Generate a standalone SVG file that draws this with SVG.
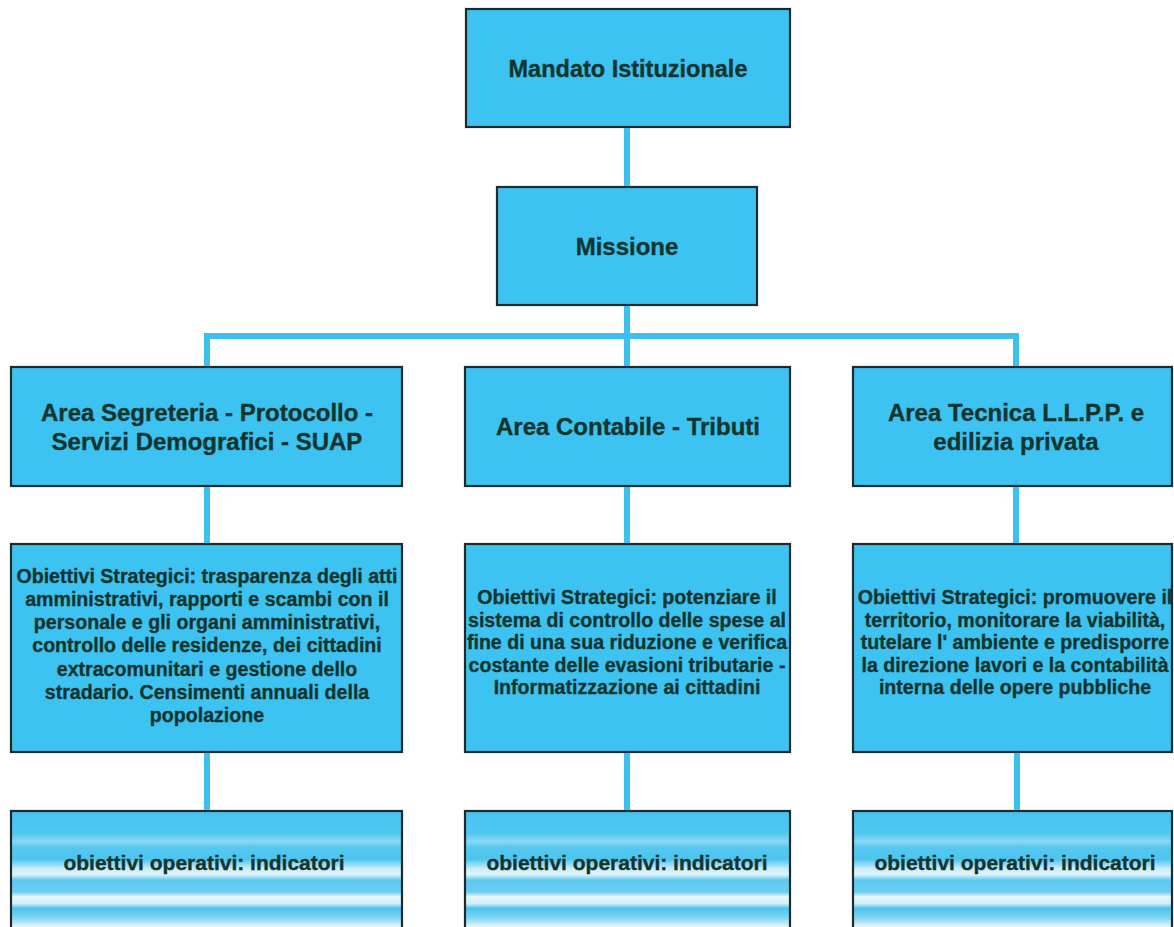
<svg xmlns="http://www.w3.org/2000/svg" width="1174" height="927" viewBox="0 0 1174 927">
<style>
.box{fill:#3dc3f1;stroke:#1f2a2a;stroke-width:2.2}
.grad{fill:url(#stripes);stroke:#1f2a2a;stroke-width:2.2}
.conn{stroke:#3cc0ef;stroke-width:6;fill:none}
text{font-family:"Liberation Sans",Arial,sans-serif;font-weight:bold;fill:#13352f;stroke:#13352f;stroke-width:0.35;text-anchor:middle}
.t1{font-size:23.5px}
.t1b{font-size:24px}
.t2{font-size:24px}
.t3{font-size:19.6px}
.t4{font-size:21px}
</style>
<defs>
<linearGradient id="stripes" gradientUnits="userSpaceOnUse" x1="0" y1="810" x2="0" y2="927">
<stop offset="0" stop-color="#45c3ef"/>
<stop offset="0.2" stop-color="#52c8f0"/>
<stop offset="0.27" stop-color="#8ad8f3"/>
<stop offset="0.32" stop-color="#55c8f0"/>
<stop offset="0.42" stop-color="#4cc5ef"/>
<stop offset="0.5" stop-color="#c8ecf8"/>
<stop offset="0.55" stop-color="#e0f4fb"/>
<stop offset="0.6" stop-color="#5ec9f0"/>
<stop offset="0.7" stop-color="#6ccdf0"/>
<stop offset="0.74" stop-color="#e5f6fb"/>
<stop offset="0.8" stop-color="#d0eff9"/>
<stop offset="0.84" stop-color="#4ec4ee"/>
<stop offset="0.92" stop-color="#7fd3f2"/>
<stop offset="1" stop-color="#e8f7fc"/>
</linearGradient>
</defs>
<rect width="1174" height="927" fill="#ffffff"/>
<g id="mandato">
<rect class="box" x="466" y="9" width="324" height="118"/>
<text class="t1" x="628" y="77">Mandato Istituzionale</text>
</g>
<g id="missione">
<rect class="box" x="497" y="187" width="260" height="118"/>
<text class="t1b" x="627" y="255">Missione</text>
</g>
<g id="area1">
<rect class="box" x="11" y="367" width="391" height="119"/>
<text class="t2" x="207" y="421">Area Segreteria - Protocollo -</text>
<text class="t2" x="207" y="450">Servizi Demografici - SUAP</text>
</g>
<g id="area2">
<rect class="box" x="465" y="367" width="325" height="119"/>
<text class="t2" x="628" y="435">Area Contabile - Tributi</text>
</g>
<g id="area3">
<rect class="box" x="853" y="367" width="319" height="119"/>
<text class="t2" x="1016" y="421">Area Tecnica L.L.P.P. e</text>
<text class="t2" x="1016" y="450">edilizia privata</text>
</g>
<g id="obiettivi1">
<rect class="box" x="11" y="544" width="391" height="208"/>
<text class="t3" x="207" y="583">Obiettivi Strategici: trasparenza degli atti</text>
<text class="t3" x="207" y="606">amministrativi, rapporti e scambi con il</text>
<text class="t3" x="207" y="629">personale e gli organi amministrativi,</text>
<text class="t3" x="207" y="652">controllo delle residenze, dei cittadini</text>
<text class="t3" x="207" y="676">extracomunitari  e gestione dello</text>
<text class="t3" x="207" y="699">stradario. Censimenti annuali della</text>
<text class="t3" x="207" y="722">popolazione</text>
</g>
<g id="obiettivi2">
<rect class="box" x="465" y="544" width="325" height="208"/>
<text class="t3" x="627" y="604">Obiettivi Strategici:  potenziare il</text>
<text class="t3" x="627" y="627">sistema di controllo delle spese al</text>
<text class="t3" x="627" y="649">fine di una sua riduzione e verifica</text>
<text class="t3" x="627" y="672">costante delle evasioni tributarie -</text>
<text class="t3" x="627" y="694">Informatizzazione ai cittadini</text>
</g>
<g id="obiettivi3">
<rect class="box" x="853" y="544" width="319" height="208"/>
<text class="t3" x="1015" y="604">Obiettivi Strategici: promuovere il</text>
<text class="t3" x="1015" y="627">territorio, monitorare la viabilità,</text>
<text class="t3" x="1015" y="649">tutelare l' ambiente e predisporre</text>
<text class="t3" x="1015" y="672">la direzione lavori e la contabilità</text>
<text class="t3" x="1015" y="694">interna delle opere pubbliche</text>
</g>
<g id="operativi1">
<rect class="grad" x="11" y="811" width="391" height="130"/>
<text class="t4" x="204" y="870">obiettivi operativi: indicatori</text>
</g>
<g id="operativi2">
<rect class="grad" x="465" y="811" width="325" height="130"/>
<text class="t4" x="627" y="870">obiettivi operativi: indicatori</text>
</g>
<g id="operativi3">
<rect class="grad" x="853" y="811" width="319" height="130"/>
<text class="t4" x="1015" y="870">obiettivi operativi: indicatori</text>
</g>
<g id="connectors">
<line class="conn" x1="627" y1="128" x2="627" y2="186"/>
<line class="conn" x1="627" y1="306" x2="627" y2="336"/>
<polyline class="conn" points="207,366 207,336 1016,336 1016,366"/>
<line class="conn" x1="627" y1="336" x2="627" y2="366"/>
<line class="conn" x1="207" y1="487" x2="207" y2="543"/>
<line class="conn" x1="627" y1="487" x2="627" y2="543"/>
<line class="conn" x1="1016" y1="487" x2="1016" y2="543"/>
<line class="conn" x1="207" y1="753" x2="207" y2="810"/>
<line class="conn" x1="627" y1="753" x2="627" y2="810"/>
<line class="conn" x1="1017" y1="753" x2="1017" y2="810"/>
</g>
</svg>
